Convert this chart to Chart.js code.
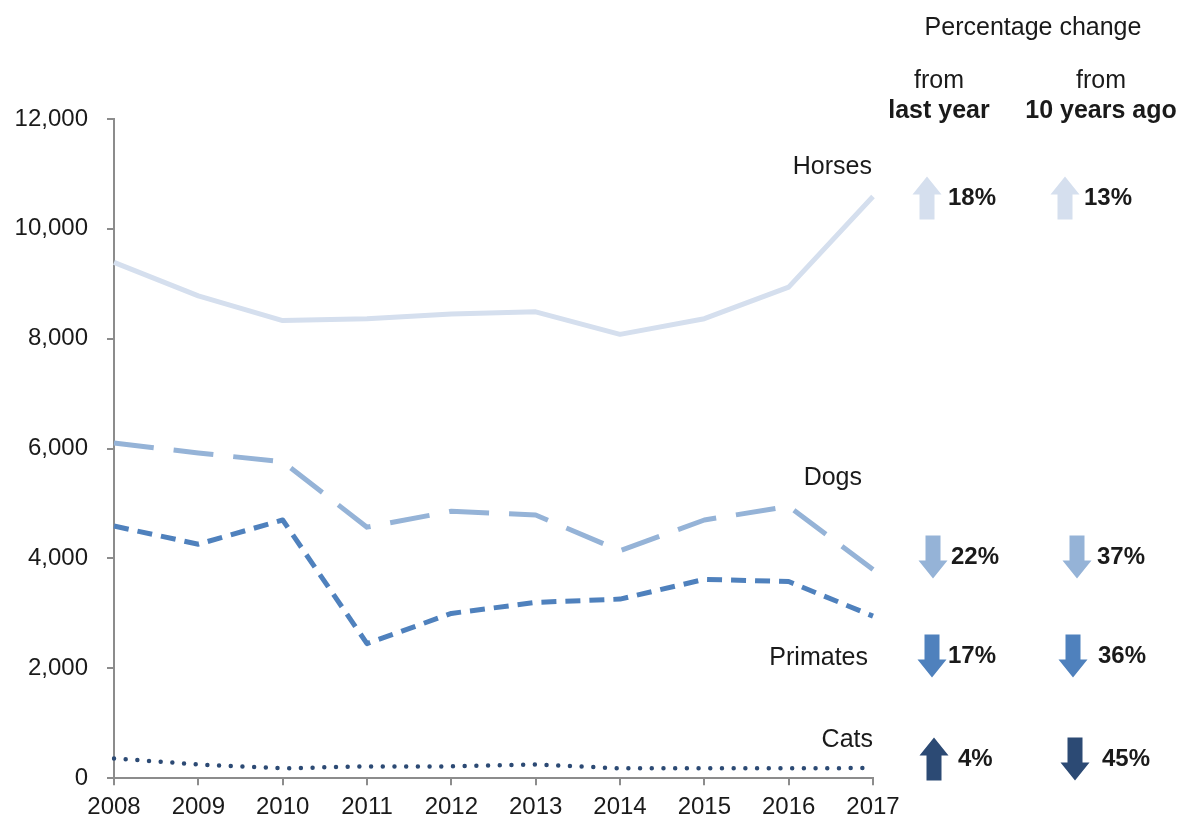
<!DOCTYPE html>
<html>
<head>
<meta charset="utf-8">
<script src="https://cdn.jsdelivr.net/npm/chart.js@4"></script>
<style>
    html, body { margin: 0; padding: 0; background: #fff; }
    #wrap { width: 1185px; height: 830px; }
</style>
</head>
<body>
<div id="wrap"><canvas id="chart" width="1185" height="830"></canvas></div>
<script>
const years = ['2008', '2009', '2010', '2011', '2012', '2013', '2014', '2015', '2016', '2017'];
const horses = [9390, 8780, 8330, 8365, 8450, 8490, 8080, 8365, 8940, 10590];
const dogs = [6100, 5920, 5760, 4570, 4860, 4790, 4140, 4700, 4950, 3800];
const primates = [4590, 4260, 4700, 2450, 3000, 3200, 3260, 3620, 3580, 2950];
const cats = [360, 250, 180, 215, 215, 250, 180, 180, 180, 185];
const species = ['Horses', 'Dogs', 'Primates', 'Cats'];
const changeLastYear = [18, -22, -17, 4];
const changeTenYears = [13, -37, -36, -45];
const yTicks = [0, 2000, 4000, 6000, 8000, 10000, 12000];

const colors = ['#d5dfee', '#95b3d7', '#4f81bd', '#2c4a74'];
const textColor = '#1a1a1a';
const font = 'Liberation Sans, Arial, sans-serif';

// where the right-hand annotations sit (label right edge / centre y, arrow rows)
const layout = {
    labels: [[872, 167], [862, 478], [868, 658], [873, 740]],
    rows: [
        {y: 198, a1: 927, t1: 948, a2: 1065, t2: 1084},
        {y: 557, a1: 933, t1: 951, a2: 1077, t2: 1097},
        {y: 656, a1: 932, t1: 948, a2: 1073, t2: 1098},
        {y: 759, a1: 934, t1: 958, a2: 1075, t2: 1102}
    ]
};

function drawArrow(ctx, cx, cy, up, color) {
    const len = 43, shaft = 15, head = 29, headLen = 18;
    const dir = up ? -1 : 1;
    const tip = cy + dir * len / 2, tail = cy - dir * len / 2, base = tip - dir * headLen;
    ctx.beginPath();
    ctx.moveTo(cx - shaft / 2, tail);
    ctx.lineTo(cx + shaft / 2, tail);
    ctx.lineTo(cx + shaft / 2, base);
    ctx.lineTo(cx + head / 2, base);
    ctx.lineTo(cx, tip);
    ctx.lineTo(cx - head / 2, base);
    ctx.lineTo(cx - shaft / 2, base);
    ctx.closePath();
    ctx.fillStyle = color;
    ctx.fill();
}

const annotations = {
    id: 'annotations',
    afterDraw(chart) {
        const ctx = chart.ctx;
        ctx.save();
        ctx.fillStyle = textColor;
        ctx.textBaseline = 'middle';

        // series names
        ctx.font = `25px ${font}`;
        ctx.textAlign = 'right';
        species.forEach((s, i) => {
            ctx.fillText(s, layout.labels[i][0], layout.labels[i][1]);
        });

        // header
        ctx.textAlign = 'center';
        ctx.fillText('Percentage change', 1033, 28);
        ctx.fillText('from', 939, 81);
        ctx.fillText('from', 1101, 81);
        ctx.font = `bold 25px ${font}`;
        ctx.fillText('last year', 939, 111);
        ctx.fillText('10 years ago', 1101, 111);

        // arrows and percentages
        ctx.font = `bold 24px ${font}`;
        ctx.textAlign = 'left';
        layout.rows.forEach((r, i) => {
            drawArrow(ctx, r.a1, r.y, changeLastYear[i] > 0, colors[i]);
            drawArrow(ctx, r.a2, r.y, changeTenYears[i] > 0, colors[i]);
            ctx.fillStyle = textColor;
            ctx.fillText(Math.abs(changeLastYear[i]) + '%', r.t1, r.y);
            ctx.fillText(Math.abs(changeTenYears[i]) + '%', r.t2, r.y);
        });
        ctx.restore();
    }
};

const seriesData = [horses, dogs, primates, cats];
const dashes = [[], [40, 20], [15, 9], [0, 11.7]];
const widths = [5, 5, 5, 4.5];

new Chart(document.getElementById('chart'), {
    type: 'line',
    data: {
        labels: years,
        datasets: species.map((s, i) => ({
            label: s,
            data: seriesData[i],
            borderColor: colors[i],
            borderWidth: widths[i],
            borderDash: dashes[i],
            borderCapStyle: i === 3 ? 'round' : 'butt',
            borderJoinStyle: 'round',
            pointRadius: 0,
            tension: 0,
            fill: false
        }))
    },
    options: {
        responsive: false,
        animation: false,
        layout: {padding: {left: 0, right: 312, top: 119, bottom: 0}},
        plugins: {legend: {display: false}, tooltip: {enabled: false}},
        scales: {
            x: {
                offset: false,
                grid: {drawOnChartArea: false, drawTicks: true, tickLength: 7, color: '#8c8c8c', lineWidth: 2},
                border: {color: '#8c8c8c', width: 2},
                ticks: {color: textColor, font: {family: font, size: 24}, padding: 8, maxRotation: 0}
            },
            y: {
                min: 0,
                max: 12000,
                afterFit(scale) { scale.width = 114; },
                afterBuildTicks(scale) { scale.ticks = yTicks.map(v => ({value: v})); },
                grid: {drawOnChartArea: false, drawTicks: true, tickLength: 7, color: '#8c8c8c', lineWidth: 2},
                border: {color: '#8c8c8c', width: 2},
                ticks: {
                    color: textColor,
                    font: {family: font, size: 24},
                    padding: 19,
                    callback: v => v.toLocaleString('en-GB')
                }
            }
        }
    },
    plugins: [annotations]
});
</script>
</body>
</html>
